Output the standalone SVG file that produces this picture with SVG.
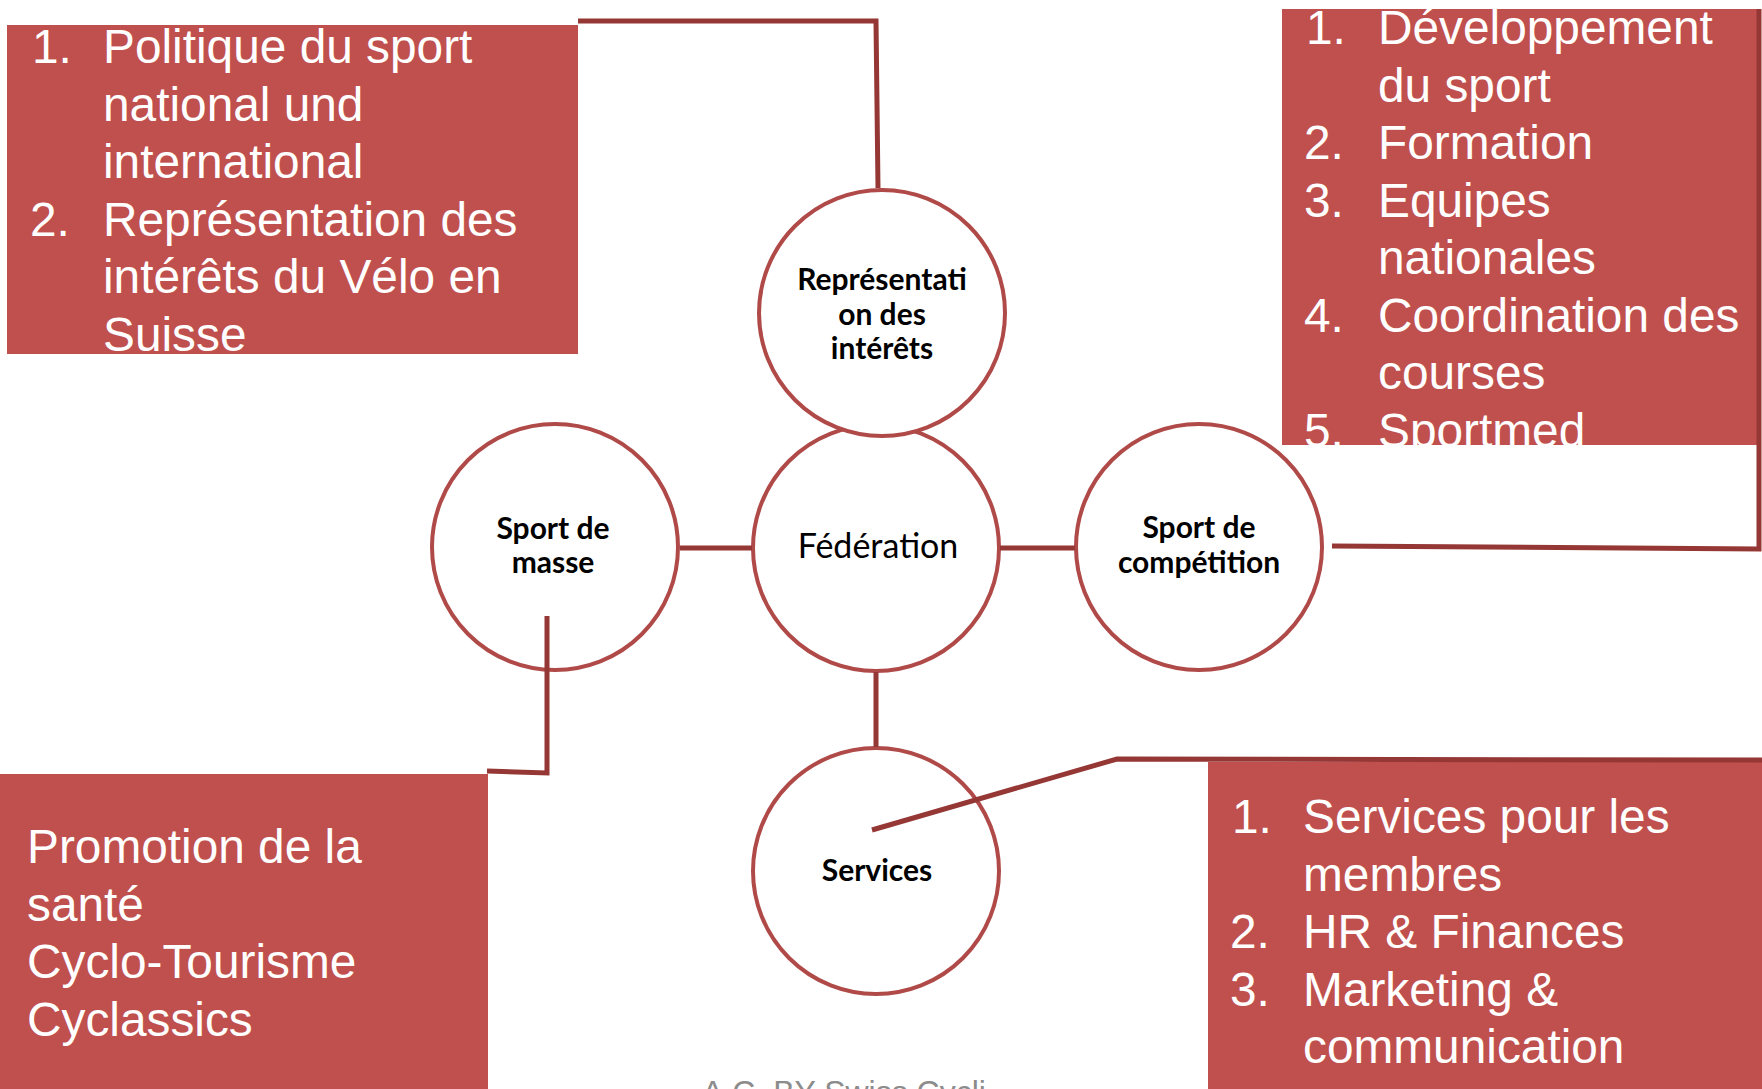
<svg xmlns="http://www.w3.org/2000/svg" width="1762" height="1089" viewBox="0 0 1762 1089">
<style>
.box{fill:#C0504D;}
.bt{font-family:"Liberation Sans",Arial,sans-serif;font-size:47.8px;fill:#FFFFFF;}
.node circle{fill:#FFFFFF;stroke:#B04A48;stroke-width:4;}
.nt{font-family:Lato,"Open Sans",sans-serif;font-size:30px;font-weight:bold;fill:#000000;text-anchor:middle;}
.nr{font-family:Lato,"Open Sans",sans-serif;font-size:34px;fill:#000000;text-anchor:middle;}
.conn{fill:none;stroke:#953735;stroke-width:5;}
.foot{font-family:"Liberation Sans",Arial,sans-serif;font-size:32px;fill:#8C8C8C;}
</style>
<defs>
<clipPath id="c1"><rect x="7" y="25" width="571" height="329"/></clipPath>
<clipPath id="c2"><rect x="1282" y="9" width="478" height="436"/></clipPath>
<clipPath id="c3"><rect x="0" y="774" width="488" height="315"/></clipPath>
<clipPath id="c4"><rect x="1208" y="762" width="554" height="327"/></clipPath>
</defs>
<rect width="1762" height="1089" fill="#FFFFFF"/>

<g id="box-politique">
<rect class="box" x="7" y="25" width="571" height="329"/>
<g clip-path="url(#c1)">
<text class="bt" x="32" y="63">1.</text>
<text class="bt" x="103" y="63">Politique du sport</text>
<text class="bt" x="103" y="120.5">national und</text>
<text class="bt" x="103" y="178">international</text>
<text class="bt" x="30" y="235.5">2.</text>
<text class="bt" x="103" y="235.5">Représentation des</text>
<text class="bt" x="103" y="293">intérêts du Vélo en</text>
<text class="bt" x="103" y="350.5">Suisse</text>
</g>
</g>

<g id="box-competition">
<rect class="box" x="1282" y="9" width="478" height="436"/>
<g clip-path="url(#c2)">
<text class="bt" x="1306" y="44">1.</text>
<text class="bt" x="1378" y="44">Développement</text>
<text class="bt" x="1378" y="101.5">du sport</text>
<text class="bt" x="1304" y="159">2.</text>
<text class="bt" x="1378" y="159">Formation</text>
<text class="bt" x="1304" y="216.5">3.</text>
<text class="bt" x="1378" y="216.5">Equipes</text>
<text class="bt" x="1378" y="274">nationales</text>
<text class="bt" x="1304" y="331.5">4.</text>
<text class="bt" x="1378" y="331.5">Coordination des</text>
<text class="bt" x="1378" y="389">courses</text>
<text class="bt" x="1304" y="446.5">5.</text>
<text class="bt" x="1378" y="446.5">Sportmed</text>
</g>
</g>

<g id="box-masse">
<rect class="box" x="0" y="774" width="488" height="315"/>
<g clip-path="url(#c3)">
<text class="bt" x="27" y="863">Promotion de la</text>
<text class="bt" x="27" y="920.5">santé</text>
<text class="bt" x="27" y="978">Cyclo-Tourisme</text>
<text class="bt" x="27" y="1035.5">Cyclassics</text>
</g>
</g>

<g id="box-services">
<rect class="box" x="1208" y="762" width="554" height="327"/>
<g clip-path="url(#c4)">
<text class="bt" x="1232" y="833">1.</text>
<text class="bt" x="1303" y="833">Services pour les</text>
<text class="bt" x="1303" y="890.5">membres</text>
<text class="bt" x="1230" y="948">2.</text>
<text class="bt" x="1303" y="948">HR &amp; Finances</text>
<text class="bt" x="1230" y="1005.5">3.</text>
<text class="bt" x="1303" y="1005.5">Marketing &amp;</text>
<text class="bt" x="1303" y="1063">communication</text>
</g>
</g>

<g id="node-federation" class="node">
<circle cx="876" cy="548" r="123"/>
<text class="nr" x="878" y="558">Fédération</text>
</g>
<g id="node-representation" class="node">
<circle cx="882" cy="313" r="123"/>
<text class="nt" x="882" y="290">Représentati</text>
<text class="nt" x="882" y="325">on des</text>
<text class="nt" x="882" y="359">intérêts</text>
</g>
<g id="node-masse" class="node">
<circle cx="555" cy="547" r="123"/>
<text class="nt" x="553" y="539">Sport de</text>
<text class="nt" x="553" y="573">masse</text>
</g>
<g id="node-competition" class="node">
<circle cx="1199" cy="547" r="123"/>
<text class="nt" x="1199" y="538">Sport de</text>
<text class="nt" x="1199" y="573">compétition</text>
</g>
<g id="node-services" class="node">
<circle cx="876" cy="871" r="123"/>
<text class="nt" x="877" y="881">Services</text>
</g>

<g id="connectors">
<polyline class="conn" points="578,21 876,21 878,188"/>
<polyline class="conn" points="1332,546 1759,549 1759,9"/>
<polyline class="conn" points="547,616 547,773 487,771"/>
<polyline class="conn" points="872,830 1117,759 1762,760"/>
<line class="conn" x1="680" y1="548" x2="752" y2="548"/>
<line class="conn" x1="1000" y1="548" x2="1075" y2="548"/>
<line class="conn" x1="876" y1="672" x2="876" y2="747"/>
</g>

<text class="foot" x="702" y="1103">A.C. BY Swiss Cycli</text>
</svg>
